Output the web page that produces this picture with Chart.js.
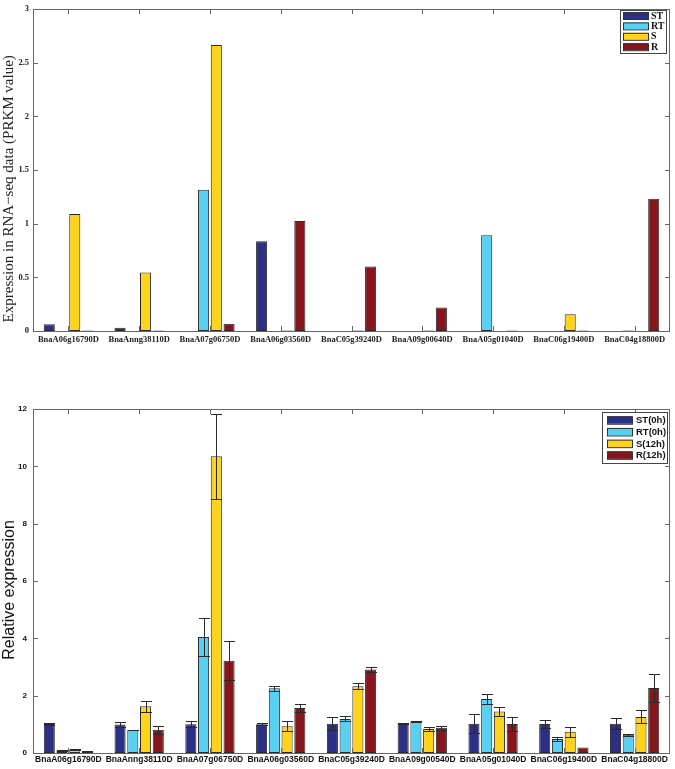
<!DOCTYPE html>
<html><head><meta charset="utf-8">
<script src="https://cdn.jsdelivr.net/npm/chart.js@4"></script>
<style>
html,body{margin:0;padding:0;background:#fff;}
#w1{position:absolute;left:0;top:0;width:675px;height:350px;}
#w2{position:absolute;left:0;top:390px;width:675px;height:379px;}
</style></head><body>
<div id="w1"><canvas id="c1" width="675" height="350"></canvas></div>
<div id="w2"><canvas id="c2" width="675" height="379"></canvas></div>
<script>
// ---- data ----
const genes = ['BnaA06g16790D','BnaAnng38110D','BnaA07g06750D','BnaA06g03560D','BnaC05g39240D','BnaA09g00640D','BnaA05g01040D','BnaC06g19400D','BnaC04g18800D'];
const genesQ = ['BnaA06g16790D','BnaAnng38110D','BnaA07g06750D','BnaA06g03560D','BnaC05g39240D','BnaA09g00540D','BnaA05g01040D','BnaC06g19400D','BnaC04g18800D'];
const seqLabels = ['ST','RT','S','R'];
const qLabels = ['ST(0h)','RT(0h)','S(12h)','R(12h)'];
// RNA-seq (PRKM)
const seqST = [0.064, 0.03, 0, 0.837, 0, 0, 0, 0, 0];
const seqRT = [0, 0, 1.316, 0, 0, 0, 0.892, 0, 0.004];
const seqS  = [1.09, 0.546, 2.665, 0.004, 0.004, 0.004, 0, 0.156, 0];
const seqR  = [0.004, 0.004, 0.068, 1.024, 0.60, 0.218, 0.004, 0.004, 1.233];
// qRT-PCR relative expression
const qST = [1.01, 0.99, 1.0, 1.0, 1.02, 1.03, 1.02, 1.01, 1.02];
const qRT = [0.08, 0.80, 4.05, 2.26, 1.19, 1.09, 1.88, 0.49, 0.64];
const qS  = [0.13, 1.63, 10.35, 0.93, 2.33, 0.84, 1.45, 0.74, 1.26];
const qR  = [0.06, 0.81, 3.22, 1.57, 2.91, 0.88, 1.01, 0.19, 2.27];
const eST = [0.02, 0.10, 0.10, 0.04, 0.22, 0.01, 0.33, 0.13, 0.19];
const eRT = [0.01, 0.01, 0.66, 0.08, 0.09, 0.01, 0.17, 0.08, 0.03];
const eS  = [0.02, 0.19, 1.48, 0.17, 0.10, 0.06, 0.17, 0.18, 0.23];
const eR  = [0.01, 0.13, 0.68, 0.15, 0.09, 0.07, 0.23, 0.00, 0.50];
const colors = ['#2b2f86','#58d0f2','#ffd31a','#86161b'];

// ---- plugins ----
function boxTicks(tickLen, gridCol){
  return {
    id:'boxTicks',
    afterDraw(chart){
      const ctx = chart.ctx, a = chart.chartArea, xs = chart.scales.x, ys = chart.scales.y;
      ctx.save();
      ctx.strokeStyle = gridCol; ctx.lineWidth = 1;
      ctx.strokeRect(Math.round(a.left)+0.5, Math.round(a.top)+0.5, Math.round(a.right-a.left)-1, Math.round(a.bottom-a.top));
      ctx.beginPath();
      xs.ticks.forEach((t,i)=>{
        const x = Math.round(xs.getPixelForTick(i))+0.5;
        ctx.moveTo(x, a.top); ctx.lineTo(x, a.top+tickLen);
        ctx.moveTo(x, a.bottom); ctx.lineTo(x, a.bottom-tickLen);
      });
      ys.ticks.forEach((t,i)=>{
        const y = Math.round(ys.getPixelForTick(i))+0.5;
        ctx.moveTo(a.left, y); ctx.lineTo(a.left+tickLen, y);
        ctx.moveTo(a.right, y); ctx.lineTo(a.right-tickLen, y);
      });
      ctx.stroke();
      ctx.restore();
    }
  };
}
function boxLegend(opt){
  return {
    id:'boxLegend',
    afterDraw(chart){
      const ctx = chart.ctx, ds = chart.data.datasets;
      ctx.save();
      ctx.font = opt.font;
      ctx.fillStyle = '#fff';
      ctx.fillRect(opt.x, opt.y, opt.w, opt.h);
      ctx.strokeStyle = '#444'; ctx.lineWidth = 1;
      ctx.strokeRect(opt.x+0.5, opt.y+0.5, opt.w, opt.h);
      ds.forEach((d,i)=>{
        const cy = opt.y + opt.first + i*opt.step;
        ctx.fillStyle = d.backgroundColor;
        ctx.fillRect(opt.x+opt.sx, cy-opt.sh/2, opt.sw, opt.sh);
        ctx.strokeStyle = '#333';
        ctx.strokeRect(opt.x+opt.sx+0.5, cy-opt.sh/2+0.5, opt.sw, opt.sh);
        ctx.fillStyle = '#111';
        ctx.textBaseline = 'middle'; ctx.textAlign = 'left';
        ctx.fillText(d.label, opt.x+opt.tx, cy+0.5);
      });
      ctx.restore();
    }
  };
}
const errorBars = {
  id:'errorBars',
  afterDatasetsDraw(chart){
    const ctx = chart.ctx, ys = chart.scales.y;
    ctx.save();
    ctx.strokeStyle = '#2a2a2a'; ctx.lineWidth = 1;
    chart.data.datasets.forEach((d,i)=>{
      const meta = chart.getDatasetMeta(i);
      meta.data.forEach((el,j)=>{
        const e = d.errors[j]; if(!e) return;
        const v = d.data[j];
        const x = Math.round(el.x)+0.5, hw = el.width/2;
        const yt = Math.round(ys.getPixelForValue(v+e))+0.5;
        const yb = Math.round(ys.getPixelForValue(Math.max(0,v-e)))+0.5;
        ctx.beginPath();
        ctx.moveTo(x, yt); ctx.lineTo(x, yb);
        ctx.moveTo(x-hw, yt); ctx.lineTo(x+hw, yt);
        ctx.moveTo(x-hw, yb); ctx.lineTo(x+hw, yb);
        ctx.stroke();
      });
    });
    ctx.restore();
  }
};

function mkDatasets(labels, arrs, errs){
  return arrs.map((arr,i)=>({
    label: labels[i], data: arr, errors: errs ? errs[i] : null,
    backgroundColor: colors[i], borderColor:'#2a2a2a', borderWidth:1,
    categoryPercentage:0.72, barPercentage:0.87, borderSkipped:false
  }));
}

const serif = "'Liberation Serif','Times New Roman',serif";
const sans = "'Liberation Sans',Arial,sans-serif";
const plainNum = v => String(v);

// ---- top chart ----
new Chart(document.getElementById('c1'), {
  type:'bar',
  data:{ labels: genes, datasets: mkDatasets(seqLabels, [seqST, seqRT, seqS, seqR]) },
  options:{
    responsive:false, animation:false, devicePixelRatio:1,
    layout:{padding:{top:5,right:5,left:0,bottom:0}},
    plugins:{legend:{display:false}, tooltip:{enabled:false}},
    scales:{
      x:{
        grid:{display:false, drawTicks:false},
        border:{display:false},
        ticks:{font:{family:serif, size:8.5, weight:'bold'}, color:'#222', padding:4, maxRotation:0, autoSkip:false},
        afterFit(s){ s.height = 19; }
      },
      y:{
        min:0, max:3,
        grid:{display:false, drawTicks:false},
        border:{display:false},
        ticks:{stepSize:0.5, font:{family:serif, size:8.5, weight:'bold'}, color:'#222', padding:4, callback: plainNum},
        title:{display:true, text:'Expression in RNA−seq data (PRKM value)          ', font:{family:serif, size:15}, color:'#222', padding:{top:0,bottom:0}},
        afterFit(s){ s.width = 33; }
      }
    }
  },
  plugins:[boxTicks(5,'#666'), boxLegend({x:620, y:10, w:46, h:43, first:5.5, step:10.4, sx:3, sw:25, sh:7, tx:31, font:"bold 10px "+serif})]
});

// ---- bottom chart ----
new Chart(document.getElementById('c2'), {
  type:'bar',
  data:{ labels: genesQ, datasets: mkDatasets(qLabels, [qST, qRT, qS, qR], [eST, eRT, eS, eR]) },
  options:{
    responsive:false, animation:false, devicePixelRatio:1,
    layout:{padding:{top:19,right:5,left:0,bottom:0}},
    plugins:{legend:{display:false}, tooltip:{enabled:false}},
    scales:{
      x:{
        grid:{display:false, drawTicks:false},
        border:{display:false},
        ticks:{font:{family:sans, size:8.5, weight:'bold'}, color:'#111', padding:2, maxRotation:0, autoSkip:false},
        afterFit(s){ s.height = 16; }
      },
      y:{
        min:0, max:12,
        grid:{display:false, drawTicks:false},
        border:{display:false},
        ticks:{stepSize:2, font:{family:sans, size:8, weight:'bold'}, color:'#111', padding:6, callback: plainNum},
        title:{display:true, text:'Relative expression    ', font:{family:sans, size:16}, color:'#111', padding:{top:0,bottom:0}},
        afterFit(s){ s.width = 33; }
      }
    }
  },
  plugins:[errorBars, boxTicks(5,'#666'), boxLegend({x:602, y:22, w:65, h:51, first:8, step:11.7, sx:5, sw:25, sh:7.5, tx:34, font:"bold 9.5px "+sans})]
});
</script>
</body></html>
